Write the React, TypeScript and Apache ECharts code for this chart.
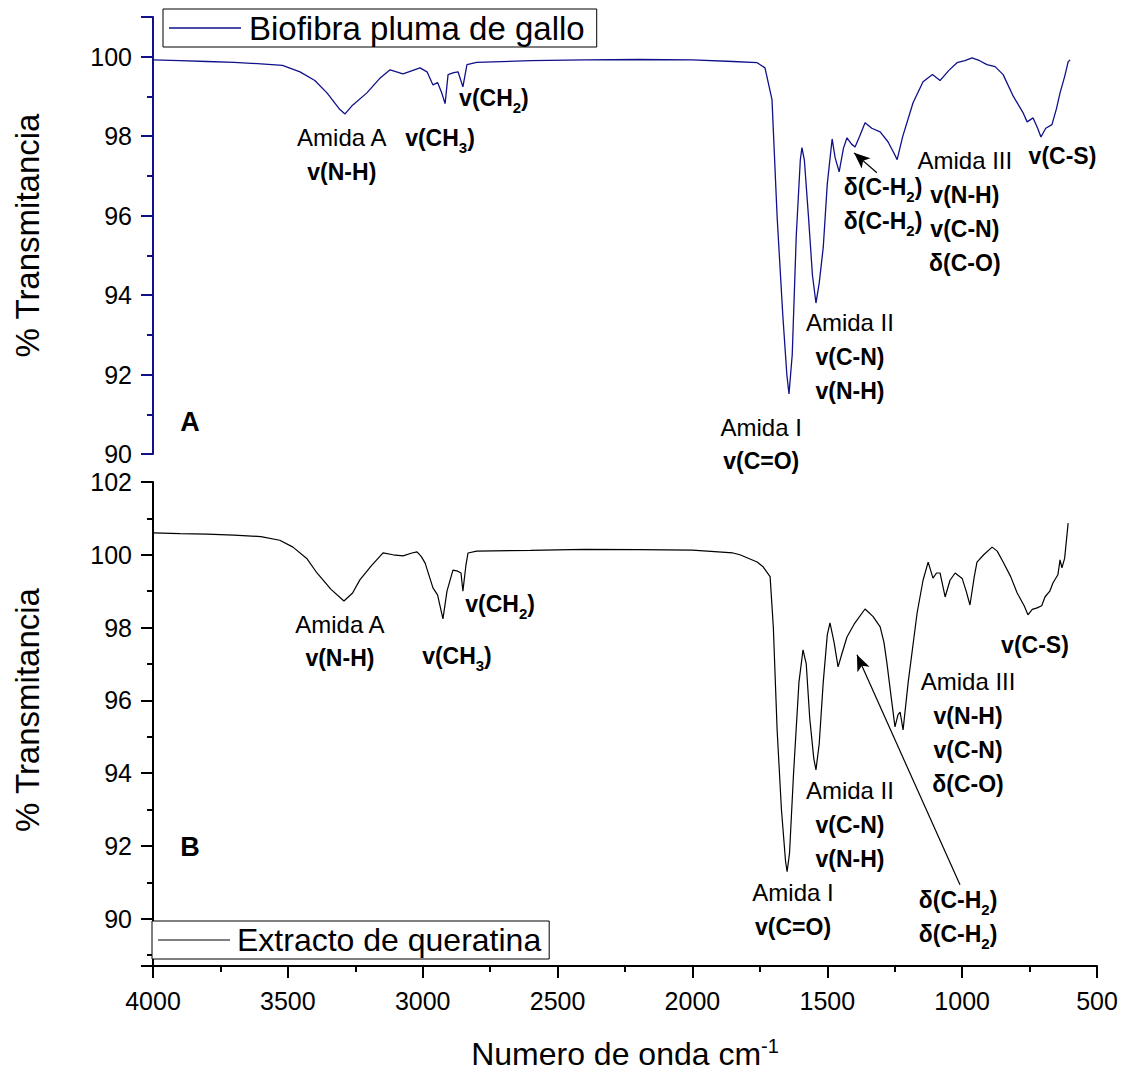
import React, { useEffect, useRef } from "react";
import * as echarts from "echarts";

// ---- Panel A: Biofibra pluma de gallo ----
const wnA = [4000, 3900, 3800, 3700, 3600, 3520, 3455, 3400, 3355, 3307, 3288, 3260, 3207, 3160, 3121, 3073, 3010, 2984, 2962, 2945, 2930, 2917, 2906, 2885, 2869, 2851, 2836, 2800, 2600, 2400, 2200, 2000, 1850, 1760, 1731, 1705, 1686, 1665, 1650, 1642, 1630, 1615, 1600, 1594, 1585, 1570, 1555, 1542, 1530, 1515, 1500, 1482, 1471, 1456, 1440, 1427, 1410, 1397, 1380, 1360, 1335, 1304, 1275, 1255, 1241, 1220, 1182, 1145, 1110, 1082, 1050, 1019, 990, 963, 935, 908, 878, 848, 810, 775, 759, 737, 720, 708, 690, 667, 650, 637, 620, 607, 600];
const tA = [99.92, 99.9, 99.88, 99.86, 99.82, 99.78, 99.62, 99.4, 99.09, 98.67, 98.56, 98.78, 99.09, 99.45, 99.67, 99.57, 99.72, 99.62, 99.29, 99.35, 99.1, 98.82, 99.55, 99.6, 99.62, 99.24, 99.8, 99.86, 99.9, 99.92, 99.93, 99.92, 99.88, 99.85, 99.72, 98.92, 95.97, 93.5, 92.0, 91.51, 92.5, 95.5, 97.4, 97.71, 97.4, 96.0, 94.5, 93.8, 94.3, 95.2, 96.8, 97.93, 97.46, 97.1, 97.7, 97.96, 97.8, 97.73, 98.0, 98.34, 98.2, 98.11, 97.86, 97.6, 97.41, 98.0, 98.84, 99.37, 99.55, 99.4, 99.65, 99.85, 99.9, 99.97, 99.9, 99.8, 99.75, 99.55, 99.0, 98.6, 98.36, 98.46, 98.2, 97.98, 98.2, 98.29, 98.7, 99.09, 99.5, 99.87, 99.92];

// ---- Panel B: Extracto de queratina ----
const wnB = [4000, 3900, 3800, 3700, 3600, 3530, 3481, 3430, 3392, 3340, 3292, 3260, 3233, 3190, 3147, 3110, 3073, 3040, 3021, 3005, 2991, 2962, 2945, 2925, 2910, 2888, 2870, 2858, 2851, 2840, 2832, 2800, 2600, 2400, 2200, 2000, 1850, 1824, 1760, 1738, 1712, 1700, 1686, 1670, 1655, 1649, 1640, 1625, 1605, 1590, 1578, 1565, 1550, 1542, 1530, 1515, 1500, 1490, 1475, 1460, 1445, 1427, 1400, 1360, 1330, 1304, 1290, 1279, 1265, 1249, 1238, 1230, 1219, 1200, 1167, 1145, 1126, 1108, 1095, 1082, 1063, 1045, 1026, 1000, 985, 971, 955, 945, 920, 889, 870, 848, 820, 796, 770, 756, 740, 722, 705, 693, 675, 663, 645, 637, 630, 620, 607];
const tB = [100.6, 100.58, 100.57, 100.54, 100.5, 100.4, 100.21, 99.9, 99.5, 99.05, 98.73, 98.95, 99.31, 99.7, 100.05, 100.0, 99.97, 100.05, 100.08, 99.95, 99.77, 99.09, 98.9, 98.24, 99.0, 99.58, 99.55, 99.5, 99.0, 99.7, 100.05, 100.1, 100.12, 100.15, 100.14, 100.13, 100.05, 100.0, 99.8, 99.67, 99.4, 98.0, 95.19, 93.0, 91.6, 91.29, 91.8, 94.0, 96.5, 97.39, 97.0, 95.5, 94.4, 94.09, 94.8, 96.5, 97.8, 98.13, 97.6, 96.92, 97.3, 97.74, 98.1, 98.51, 98.3, 98.02, 97.6, 97.03, 96.2, 95.27, 95.6, 95.68, 95.19, 96.5, 98.4, 99.3, 99.8, 99.36, 99.5, 99.5, 98.84, 99.3, 99.5, 99.35, 99.0, 98.62, 99.4, 99.8, 100.0, 100.21, 100.1, 99.8, 99.4, 98.95, 98.6, 98.35, 98.5, 98.54, 98.6, 98.84, 99.0, 99.23, 99.45, 99.86, 99.64, 99.9, 100.87];

const seriesNames = ["Biofibra pluma de gallo", "Extracto de queratina"];
const xTitle = "Numero de onda cm";
const yTitle = "% Transmitancia";

// annotations: [wavenumber, value, rich text]
const annA: [number, number, string][] = [
  [3300, 97.53, "{n|Amida A}\n{b|v(N-H)}"],
  [2936, 97.96, "{b|v(CH}{s|3}{b|)}"],
  [2736, 98.97, "{b|v(CH}{s|2}{b|)}"],
  [1293, 96.3, "{b|δ(C-H}{s|2}{b|)}\n{b|δ(C-H}{s|2}{b|)}"],
  [990, 96.1, "{n|Amida III}\n{b|v(N-H)}\n{b|v(C-N)}\n{b|δ(C-O)}"],
  [628, 97.5, "{b|v(C-S)}"],
  [1416, 92.45, "{n|Amida II}\n{b|v(C-N)}\n{b|v(N-H)}"],
  [1745, 90.25, "{n|Amida I}\n{b|v(C=O)}"],
  [3863, 90.81, "{p|A}"],
];
const annB: [number, number, string][] = [
  [3307, 97.63, "{n|Amida A}\n{b|v(N-H)}"],
  [2873, 97.22, "{b|v(CH}{s|3}{b|)}"],
  [2713, 98.65, "{b|v(CH}{s|2}{b|)}"],
  [978, 95.11, "{n|Amida III}\n{b|v(N-H)}\n{b|v(C-N)}\n{b|δ(C-O)}"],
  [730, 97.52, "{b|v(C-S)}"],
  [1416, 92.58, "{n|Amida II}\n{b|v(C-N)}\n{b|v(N-H)}"],
  [1627, 90.25, "{n|Amida I}\n{b|v(C=O)}"],
  [1015, 90.05, "{b|δ(C-H}{s|2}{b|)}\n{b|δ(C-H}{s|2}{b|)}"],
  [3863, 91.98, "{p|B}"],
];

// arrows: [fromWn, fromT, toWn, toT]
const arrowA = [1316, 97.08, 1401, 97.58];
const arrowB = [1008, 90.93, 1390, 97.25];

const FONT = "Liberation Sans, Arial, sans-serif";
const NAVY = "#10108a";

const rich = {
  n: { fontSize: 24, fontFamily: FONT, color: "#000", lineHeight: 34 },
  b: { fontSize: 23, fontFamily: FONT, fontWeight: "bold", color: "#000", lineHeight: 34 },
  s: { fontSize: 15, fontFamily: FONT, fontWeight: "bold", color: "#000", lineHeight: 15, verticalAlign: "bottom" },
  p: { fontSize: 27, fontFamily: FONT, fontWeight: "bold", color: "#000" },
};

function annSeries(ann: [number, number, string][], idx: number) {
  return {
    type: "scatter",
    xAxisIndex: idx,
    yAxisIndex: idx,
    symbolSize: 0,
    silent: true,
    clip: false,
    itemStyle: { opacity: 1 },
    data: ann.map((a) => ({
      value: [a[0], a[1]],
      label: {
        show: true,
        position: "inside",
        formatter: a[2],
        rich,
        align: "center",
        color: "#000",
        opacity: 1,
        textBorderWidth: 0,
      },
    })),
    z: 5,
  };
}

function arrowLine(a: number[]) {
  return {
    silent: true,
    symbol: ["none", "arrow"],
    symbolSize: [10, 16],
    label: { show: false },
    lineStyle: { color: "#000", width: 1.2, type: "solid" },
    data: [[{ coord: [a[0], a[1]] }, { coord: [a[2], a[3]] }]],
  };
}

export default function App() {
  const ref = useRef<HTMLDivElement>(null);
  useEffect(() => {
    if (!ref.current) return;
    const chart = echarts.init(ref.current, undefined, { renderer: "svg" });
    const evenFmt = (v: number) => (Math.abs(v - Math.round(v)) < 1e-6 && Math.round(v) % 2 === 0 ? String(Math.round(v)) : "");
    const yCommon = (color: string, namePad: number[]) => ({
      type: "value",
      axisLine: { show: true, lineStyle: { color, width: 2 } },
      axisTick: { show: true, length: 12, lineStyle: { color, width: 2 } },
      minorTick: { show: true, splitNumber: 2, length: 6, lineStyle: { color, width: 2 } },
      axisLabel: { fontSize: 25, color: "#000", fontFamily: FONT, margin: 21, formatter: evenFmt },
      splitLine: { show: false },
      minorSplitLine: { show: false },
      name: yTitle,
      nameLocation: "middle",
      nameGap: 109,
      nameTextStyle: { fontSize: 33, color: "#000", fontFamily: FONT, padding: namePad },
    });
    const legendBase = {
      icon: "rect",
      itemWidth: 72,
      itemGap: 10,
      padding: [1, 8, 1, 6],
      borderColor: "#000",
      borderWidth: 1,
      backgroundColor: "#fff",
    };
    chart.setOption({
      animation: false,
      backgroundColor: "#fff",
      grid: [
        { left: 153, right: 30, top: 17, height: 437 },
        { left: 153, right: 30, top: 482, height: 484 },
      ],
      legend: [
        {
          ...legendBase,
          data: [seriesNames[0]],
          left: 163,
          top: 9,
          itemHeight: 1.5,
          padding: [1, 12, 1, 6],
          textStyle: { fontSize: 33, fontFamily: FONT, color: "#000", lineHeight: 36, padding: [0, 0, 0, 3] },
        },
        {
          ...legendBase,
          data: [seriesNames[1]],
          left: 152,
          top: 921,
          itemHeight: 1.2,
          textStyle: { fontSize: 32, fontFamily: FONT, color: "#000", lineHeight: 36, padding: [0, 0, 0, 2] },
        },
      ],
      xAxis: [
        { gridIndex: 0, type: "value", min: 500, max: 4000, inverse: true, show: false },
        {
          gridIndex: 1,
          type: "value",
          min: 500,
          max: 4000,
          interval: 500,
          inverse: true,
          axisLine: { show: true, lineStyle: { color: "#000", width: 2 } },
          axisTick: { show: true, length: 12, lineStyle: { color: "#000", width: 2 } },
          minorTick: { show: true, splitNumber: 2, length: 6, lineStyle: { color: "#000", width: 2 } },
          axisLabel: { fontSize: 25, color: "#000", fontFamily: FONT, margin: 22, formatter: (v: number) => String(v) },
          splitLine: { show: false },
          name: "{n|" + xTitle + "}{sup|-1}",
          nameLocation: "middle",
          nameGap: 70,
          nameTextStyle: {
            rich: {
              n: { fontSize: 32, fontFamily: FONT, color: "#000", lineHeight: 36 },
              sup: { fontSize: 20, fontFamily: FONT, color: "#000", verticalAlign: "top", lineHeight: 20 },
            },
          },
        },
      ],
      yAxis: [
        { gridIndex: 0, min: 90, max: 101, interval: 2, ...yCommon(NAVY, [0, 0, 0, 0]) },
        { gridIndex: 1, min: 88.7, max: 102, splitNumber: 7, ...yCommon("#000", [0, 0, 0, 28]) },
      ],
      series: [
        {
          name: seriesNames[0],
          type: "line",
          xAxisIndex: 0,
          yAxisIndex: 0,
          showSymbol: false,
          symbol: "none",
          color: NAVY,
          lineStyle: { width: 1.3, color: NAVY },
          data: wnA.map((w, i) => [w, tA[i]]),
          markLine: arrowLine(arrowA),
        },
        {
          name: seriesNames[1],
          type: "line",
          xAxisIndex: 1,
          yAxisIndex: 1,
          showSymbol: false,
          symbol: "none",
          color: "#000",
          lineStyle: { width: 1.2, color: "#000" },
          data: wnB.map((w, i) => [w, tB[i]]),
          markLine: arrowLine(arrowB),
        },
        annSeries(annA, 0),
        annSeries(annB, 1),
      ],
    });
    return () => chart.dispose();
  }, []);
  return <div ref={ref} style={{ width: 1127, height: 1076, position: "absolute", left: 0, top: 0 }} />;
}
